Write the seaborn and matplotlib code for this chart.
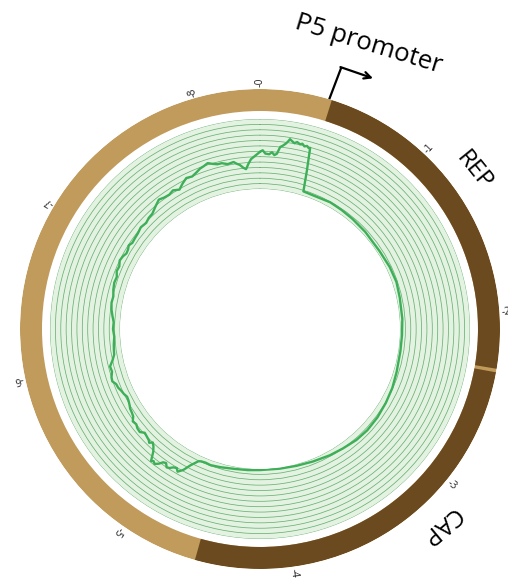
import numpy as np
import pandas as pd
import matplotlib
matplotlib.use("Agg")
import matplotlib.pyplot as plt
import seaborn as sns

# ---------------- data ----------------
GENOME_KB = 8.372
tick_kb = [0, 1, 2, 3, 4, 5, 6, 7, 8]
tick_labels = ["0", "1", "2", "3", "4", "5", "6", "7", "8"]

feature_names = ["REP", "CAP"]
feature_start_kb = [0.405, 2.335]
feature_end_kb = [2.315, 4.552]

promoter_name = "P5 promoter"
promoter_kb = 0.390

trace_kb = [0.000, 0.020, 0.040, 0.070, 0.090, 0.110, 0.128, 0.147, 0.165, 0.186,
            0.200, 0.209, 0.225, 0.244, 0.262, 0.284, 0.300, 0.318, 0.335, 0.350,
            0.360, 0.384, 0.407, 0.512, 0.674, 0.800, 0.930, 1.100, 1.326, 1.500,
            1.651, 1.800, 2.000, 2.150, 2.302, 2.500, 2.651, 2.800, 2.953, 3.100,
            3.233, 3.380, 3.512, 3.680, 3.837, 4.000, 4.186, 4.300, 4.419, 4.558,
            4.651, 4.700, 4.744, 4.767, 4.814, 4.850, 4.884, 4.905, 4.930, 4.955,
            4.977, 5.000, 5.023, 5.045, 5.070, 5.090, 5.105, 5.140, 5.170, 5.195,
            5.215, 5.233, 5.265, 5.302, 5.335, 5.372, 5.405, 5.442, 5.475, 5.512,
            5.545, 5.581, 5.615, 5.651, 5.685, 5.721, 5.755, 5.791, 5.825, 5.860,
            5.905, 5.953, 6.000, 6.047, 6.095, 6.140, 6.210, 6.279, 6.340, 6.395,
            6.450, 6.512, 6.570, 6.628, 6.690, 6.744, 6.790, 6.837, 6.885, 6.930,
            6.965, 7.000, 7.035, 7.070, 7.115, 7.163, 7.220, 7.279, 7.325, 7.372,
            7.430, 7.488, 7.535, 7.581, 7.625, 7.674, 7.720, 7.767, 7.815, 7.860,
            7.895, 7.930, 7.965, 8.000, 8.035, 8.070, 8.115, 8.163, 8.185, 8.209,
            8.235, 8.256, 8.280, 8.302, 8.335, 8.372]
trace_val = [6.9, 7.2, 6.6, 6.5, 6.9, 6.4, 6.7, 8.0, 8.3, 8.8,
             9.3, 9.7, 9.4, 9.1, 9.4, 9.1, 9.3, 8.9, 9.1, 8.8,
             8.9, 4.6, 0.8, 0.7, 0.9, 0.8, 0.7, 0.6, 0.5, 0.7,
             0.8, 0.6, 0.5, 0.4, 0.4, 0.6, 0.9, 1.1, 1.3, 1.4,
             1.3, 1.0, 0.8, 0.5, 0.3, 0.2, 0.2, 0.3, 0.4, 0.7,
             0.9, 0.8, 0.9, 1.1, 2.4, 3.8, 4.6, 4.1, 4.3, 4.8,
             5.0, 4.4, 4.6, 5.3, 5.8, 5.5, 5.8, 4.2, 3.4, 3.0,
             3.5, 3.2, 3.0, 2.8, 3.4, 3.3, 3.0, 3.2, 2.6, 2.4,
             2.3, 2.0, 1.8, 1.7, 2.0, 2.2, 2.5, 2.6, 3.1, 3.0,
             2.6, 2.7, 2.0, 1.5, 1.4, 1.3, 1.1, 1.3, 1.2, 1.5,
             1.8, 2.0, 1.9, 2.2, 2.4, 2.3, 2.7, 2.6, 3.0, 2.8,
             2.5, 2.6, 2.9, 2.6, 2.7, 2.8, 3.1, 2.9, 3.2, 3.3,
             3.9, 4.5, 4.2, 4.1, 4.4, 3.9, 4.6, 5.2, 5.0, 5.4,
             5.8, 6.0, 6.3, 5.9, 5.6, 5.6, 5.2, 5.4, 5.0, 4.7,
             4.1, 3.8, 4.8, 5.6, 6.2, 6.9]

TRACK_MAX = 13

# ---------------- style ----------------
TAN = "#c09b5b"
BROWN = "#6b4a1f"
BAND = "#e4f3e1"
GRIDC = "#3f9a50"
LINEC = "#3daf58"

sns.set_theme(style="white")
plt.rcParams["font.family"] = ["Open Sans", "DejaVu Sans"]

W, H = 508, 582
fig = plt.figure(figsize=(W / 100, H / 100), dpi=100)
cx, cy = 260, 329


def polar_axes(radius):
    rect = [(cx - radius) / W, (H - cy - radius) / H, 2 * radius / W, 2 * radius / H]
    ax = fig.add_axes(rect, projection="polar")
    ax.set_theta_zero_location("N")
    ax.set_theta_direction(-1)
    ax.set_facecolor("none")
    return ax


def hide_spines(ax):
    for s in ax.spines.values():
        s.set_visible(False)
        s.set_linewidth(0)


def to_theta(kb):
    return np.asarray(kb, dtype=float) / GENOME_KB * 2 * np.pi


# outer ring axes (radius units = pixels)
axo = polar_axes(240)
axo.set_ylim(0, 240)
axo.grid(False)
axo.set_xticks([])
axo.set_yticks([])
axo.bar(0, 22, width=2 * np.pi, bottom=218, color=TAN, edgecolor="none", align="edge")
for s, e in zip(feature_start_kb, feature_end_kb):
    t0, t1 = to_theta([s, e])
    axo.bar(t0, 22, width=t1 - t0, bottom=218, color=BROWN, edgecolor="none", align="edge")

for k, lab in zip(tick_kb, tick_labels):
    th = float(to_theta(k))
    deg = np.degrees(th)
    axo.text(th, 242, "-" + lab, rotation=90 - deg, rotation_mode="anchor",
             ha="left", va="center", fontsize=7, color="#333333", clip_on=False,
             family=["DejaVu Sans"])

# feature labels
label_deg = {"REP": 53.5, "CAP": 137.5}
label_rot = {"REP": -51, "CAP": -140}
for name in feature_names:
    axo.text(np.radians(label_deg[name]), 266, name, rotation=label_rot[name],
             rotation_mode="anchor", ha="center", va="center", fontsize=17.5,
             color="black", clip_on=False)

# promoter arrow
tp = float(to_theta(promoter_kb))
axo.plot([tp, tp + np.radians(0.5)], [240, 274], color="black", lw=1.6,
         solid_capstyle="butt", clip_on=False)
axo.annotate("", xy=(tp + np.radians(7.5), 275), xytext=(tp + np.radians(0.3), 274),
             arrowprops=dict(arrowstyle="->", color="black", lw=1.6,
                             shrinkA=0, shrinkB=0, mutation_scale=12),
             annotation_clip=False)
axo.text(np.radians(20.8), 305, promoter_name, rotation=-17, rotation_mode="anchor",
         ha="center", va="center", fontsize=18.5, color="black", clip_on=False)
hide_spines(axo)

# inner track axes: radius 210 px, value 0 at 140 px
axt = polar_axes(210)
axt.set_ylim(0, TRACK_MAX)
axt.set_rorigin(-TRACK_MAX * 140 / 70)
axt.bar(0, TRACK_MAX, width=2 * np.pi, bottom=0, color=BAND, edgecolor="none",
        align="edge", zorder=0.2)

df = pd.DataFrame({"theta": to_theta(trace_kb), "value": trace_val})
sns.lineplot(data=df, x="theta", y="value", ax=axt, color=LINEC, lw=1.7,
             sort=False, estimator=None, zorder=3)
axt.set_xlabel("")
axt.set_ylabel("")
axt.set_ylim(0, TRACK_MAX)
axt.set_yticks(np.arange(0, TRACK_MAX + 1))
axt.set_yticklabels([])
axt.set_xticks([])
axt.yaxis.grid(True, color=GRIDC, lw=0.55, alpha=0.75)
axt.xaxis.grid(False)
axt.set_axisbelow(True)
hide_spines(axt)

fig.savefig("out.png", dpi=100)
